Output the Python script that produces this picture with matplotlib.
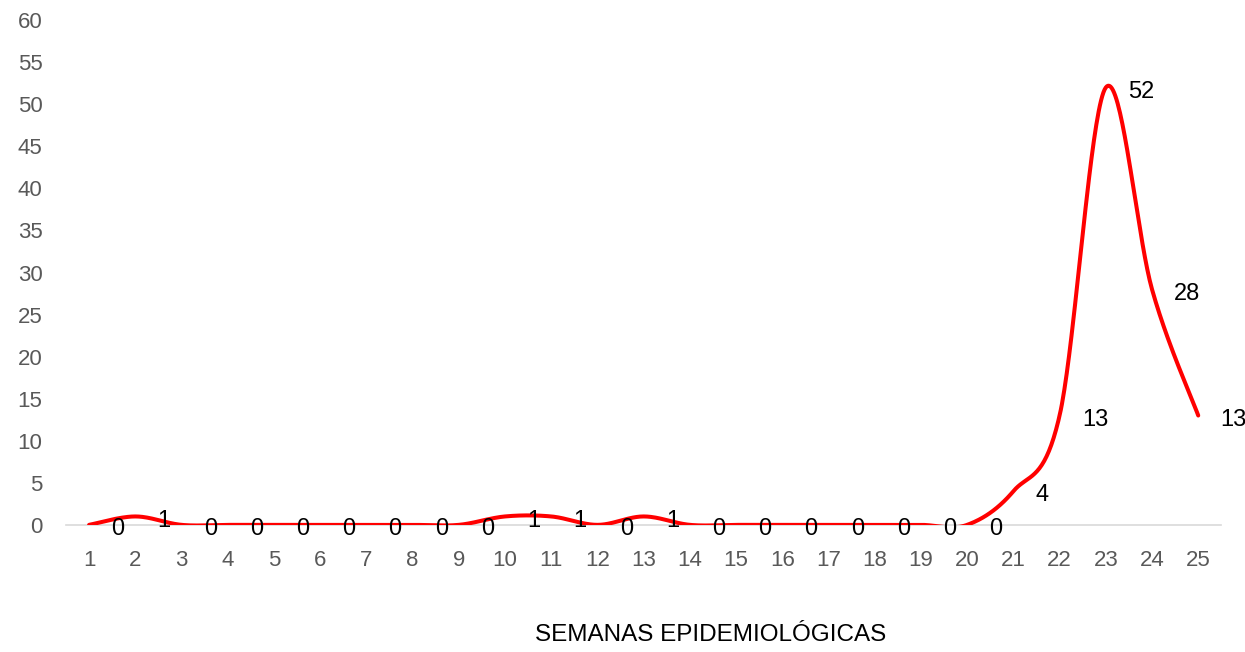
import numpy as np
import matplotlib
matplotlib.use('Agg')
import matplotlib.pyplot as plt

# weekly case counts
weeks = list(range(1, 26))
cases = [0, 1, 0, 0, 0, 0, 0, 0, 0, 1, 1, 0, 1, 0, 0, 0, 0, 0, 0, 0, 4, 13, 52, 28, 13]
yticks = list(range(0, 61, 5))
xlabel = 'SEMANAS EPIDEMIOLÓGICAS'


def smooth_curve(xs, ys, n=40):
    """Bezier smoothing like a spreadsheet 'smoothed line'."""
    xs = np.asarray(xs, float)
    ys = np.asarray(ys, float)
    px = np.concatenate([[xs[0]], xs, [xs[-1]]])
    py = np.concatenate([[ys[0]], ys, [ys[-1]]])
    out_x, out_y = [], []
    t = np.linspace(0, 1, n)
    for i in range(1, len(px) - 2):
        p0 = np.array([px[i], py[i]])
        p3 = np.array([px[i + 1], py[i + 1]])
        c1 = p0 + (np.array([px[i + 1], py[i + 1]]) - np.array([px[i - 1], py[i - 1]])) / 6
        c2 = p3 - (np.array([px[i + 2], py[i + 2]]) - np.array([px[i], py[i]])) / 6
        pts = ((1 - t) ** 3)[:, None] * p0 + (3 * (1 - t) ** 2 * t)[:, None] * c1 \
            + (3 * (1 - t) * t ** 2)[:, None] * c2 + (t ** 3)[:, None] * p3
        out_x.extend(pts[:, 0])
        out_y.extend(pts[:, 1])
    return out_x, out_y


plt.rcParams['font.family'] = ['Liberation Sans', 'DejaVu Sans']

fig = plt.figure(figsize=(12.45, 6.52), dpi=100)
ax = fig.add_axes([0.053, 0.195, 0.928, 0.774])

sx, sy = smooth_curve(weeks, cases)
ax.plot(sx, sy, color='#ff0000', lw=2.9, solid_capstyle='round', zorder=3)

for w, c in zip(weeks, cases):
    ax.annotate(str(c), (w, c), xytext=(16, -3), textcoords='offset points',
                ha='left', va='center', fontsize=17, color='black', zorder=4)

ax.set_xlim(0.5, 25.5)
ax.set_ylim(0, 60)
ax.set_xticks(weeks)
ax.set_xticklabels([str(w) for w in weeks])
ax.set_yticks(yticks)
ax.tick_params(axis='both', length=0, labelsize=16, labelcolor='#595959')
ax.tick_params(axis='x', pad=18)
ax.tick_params(axis='y', pad=17)
for s in ['top', 'right', 'left']:
    ax.spines[s].set_visible(False)
ax.spines['bottom'].set_color('#d9d9d9')
ax.spines['bottom'].set_linewidth(1.2)
ax.patch.set_alpha(0)

fig.text(711 / 1245, 1 - 635 / 652, xlabel, ha='center', va='center',
         fontsize=17.5, family=['Liberation Sans Narrow', 'Liberation Sans'])

fig.savefig('out.png', dpi=100)
